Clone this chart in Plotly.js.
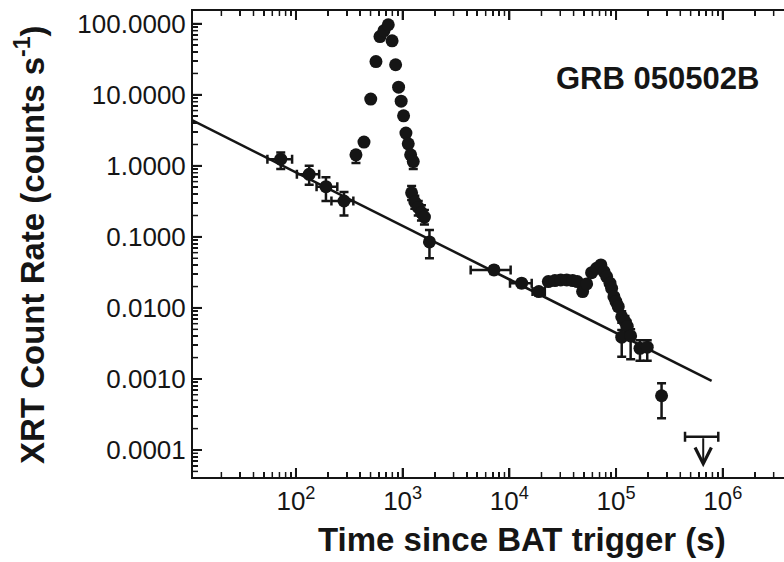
<!DOCTYPE html>
<html>
<head>
<meta charset="utf-8">
<script src="https://cdn.plot.ly/plotly-3.0.1.min.js"></script>
<style>
html,body{margin:0;padding:0;overflow:hidden;background:#fff;}
#chart{width:800px;height:562px;}
</style>
</head>
<body>
<div id="chart"></div>
<script>
// Early decay (with time bins)
const earlyTime   = [72, 133, 191, 282];
const earlyTimeLo = [54, 102, 156, 215];
const earlyTimeHi = [92, 165, 244, 345];
const earlyRate   = [1.24, 0.76, 0.51, 0.32];
const earlyRateLo = [0.90, 0.54, 0.32, 0.20];
const earlyRateHi = [1.54, 1.00, 0.69, 0.43];

// Giant flare
const flareTime   = [365, 434, 502, 562, 613, 668, 733, 796, 859, 916, 968, 1020, 1073, 1128, 1188, 1257];
const flareRate   = [1.43, 2.16, 8.7, 29.4, 66, 80, 97, 57.6, 26.5, 12.8, 8.15, 5.06, 2.89, 2.04, 1.43, 1.15];
const flareRateLo = [1.10, 2.16, 8.7, 29.4, 66, 80, 97, 57.6, 26.5, 12.8, 8.15, 5.06, 2.89, 2.04, 1.43, 0.90];
const flareRateHi = [1.60, 2.16, 8.7, 29.4, 66, 80, 97, 57.6, 26.5, 12.8, 8.15, 5.06, 2.89, 2.04, 1.43, 1.30];

// Post-flare decline
const tailTime   = [1213, 1300, 1400, 1500, 1600, 1783];
const tailRate   = [0.417, 0.31, 0.26, 0.22, 0.19, 0.085];
const tailRateLo = [0.33, 0.25, 0.20, 0.17, 0.15, 0.05];
const tailRateHi = [0.52, 0.38, 0.32, 0.28, 0.24, 0.125];

// Late-time data
const lateTime   = [7180, 13030, 18900, 23200, 26700, 30300, 34500, 39200, 43300, 48600, 53000, 59000, 65700, 72100, 77100, 81600, 87700, 90900, 95500, 99800, 104900, 113000, 121200, 127400, 113000, 137000, 167500, 196000, 267000];
const lateTimeLo = [4340, 10140, 16500, 23200, 26700, 30300, 34500, 39200, 43300, 48600, 53000, 59000, 65700, 72100, 77100, 81600, 87700, 90900, 95500, 99800, 104900, 113000, 121200, 127400, 113000, 137000, 167500, 196000, 267000];
const lateTimeHi = [10280, 16200, 21500, 23200, 26700, 30300, 34500, 39200, 43300, 48600, 53000, 59000, 65700, 72100, 77100, 81600, 87700, 90900, 95500, 99800, 104900, 113000, 121200, 127400, 113000, 137000, 167500, 196000, 267000];
const lateRate   = [0.0343, 0.0223, 0.0170, 0.0235, 0.0243, 0.0248, 0.0248, 0.0243, 0.0235, 0.0170, 0.0218, 0.0314, 0.0362, 0.0403, 0.0325, 0.0276, 0.0223, 0.0189, 0.0144, 0.0123, 0.0104, 0.0075, 0.0064, 0.0055, 0.00387, 0.00403, 0.0027, 0.0028, 0.00058];
const lateRateLo = [0.0300, 0.0195, 0.0150, 0.0235, 0.0243, 0.0248, 0.0248, 0.0243, 0.0235, 0.0170, 0.0218, 0.0314, 0.0362, 0.0403, 0.0325, 0.0276, 0.0223, 0.0189, 0.0144, 0.0123, 0.0092, 0.0062, 0.0053, 0.0045, 0.00206, 0.0019, 0.0018, 0.0018, 0.00028];
const lateRateHi = [0.0385, 0.0250, 0.0190, 0.0235, 0.0243, 0.0248, 0.0248, 0.0243, 0.0235, 0.0170, 0.0218, 0.0314, 0.0362, 0.0403, 0.0325, 0.0276, 0.0223, 0.0189, 0.0144, 0.0123, 0.0118, 0.0090, 0.0077, 0.0066, 0.0049, 0.0050, 0.0035, 0.0035, 0.00087];

// Upper limit
const limTime = [656000];
const limTimeLo = [443000];
const limTimeHi = [908000];
const limRate = [0.000154];
const limArrowTip = 0.000057;

// Power-law fit line
const fitTime = [10, 787000];
const fitRate = [4.59, 0.00094];

// Tick labels
const yTickVals = [100, 10, 1, 0.1, 0.01, 0.001, 0.0001];
const yTickText = ["100.0000", "10.0000", "1.0000", "0.1000", "0.0100", "0.0010", "0.0001"];
const xTickVals = [1e2, 1e3, 1e4, 1e5, 1e6, 1e7];
const xTickText = ["10<sup>2</sup>", "10<sup>3</sup>", "10<sup>4</sup>", "10<sup>5</sup>", "10<sup>6</sup>", "10<sup>7</sup>"];

// Layout geometry
const FIG_W = 800, FIG_H = 562;
const MARGIN = {l: 193, r: 0, t: 11, b: 85};
const X_RANGE = [1.035, 6.724];
const Y_RANGE = [-4.38, 2.18];
const MAJOR_LEN = 9, MINOR_LEN = 5;

const FONT = 'Liberation Sans, Arial, sans-serif';
const INK = '#151515';
const sub = (a, b) => a.map((v, i) => Math.max(0, v - b[i]));
const subR = (a, b) => a.map((v, i) => Math.max(0, b[i] - v));

// minor tick positions (2..9 within each decade)
function minorVals(p0, p1) {
  const out = [];
  for (let p = p0; p <= p1; p++) {
    for (let m = 2; m <= 9; m++) out.push(m * Math.pow(10, p));
  }
  return out;
}
const xMinorVals = minorVals(1, 7);
const yMinorVals = minorVals(-5, 2);

function pts(t, tLo, tHi, r, rLo, rHi) {
  const tr = {
    type: 'scatter', mode: 'markers', x: t, y: r,
    marker: {symbol: 'circle', size: 13, color: INK},
    error_y: {type: 'data', symmetric: false, array: subR(r, rHi), arrayminus: sub(r, rLo), color: INK, thickness: 2.5, width: 4.5},
    showlegend: false, hoverinfo: 'skip'
  };
  if (tLo) {
    tr.error_x = {type: 'data', symmetric: false, array: subR(t, tHi), arrayminus: sub(t, tLo), color: INK, thickness: 2.5, width: 4.5};
  }
  return tr;
}

// Tick marks drawn through the axes' own scales (inside the frame)
const plotW = FIG_W - MARGIN.l - MARGIN.r;
const plotH = FIG_H - MARGIN.t - MARGIN.b;
const pxPerDecX = plotW / (X_RANGE[1] - X_RANGE[0]);
const pxPerDecY = plotH / (Y_RANGE[1] - Y_RANGE[0]);
const inRange = (v, r) => Math.log10(v) > r[0] && Math.log10(v) < r[1];

function tickTrace(xv, yv, len, width) {
  const x = [], y = [];
  const xl = Math.pow(10, X_RANGE[0]);
  const xl2 = Math.pow(10, X_RANGE[0] + len / pxPerDecX);
  const yb = Math.pow(10, Y_RANGE[0]);
  const yb2 = Math.pow(10, Y_RANGE[0] + len / pxPerDecY);
  const yt = Math.pow(10, Y_RANGE[1]);
  const yt2 = Math.pow(10, Y_RANGE[1] - len / pxPerDecY);
  yv.filter(v => inRange(v, Y_RANGE)).forEach(v => { x.push(xl, xl2, null); y.push(v, v, null); });
  xv.filter(v => inRange(v, X_RANGE)).forEach(v => {
    x.push(v, v, null); y.push(yb, yb2, null);
    x.push(v, v, null); y.push(yt, yt2, null);
  });
  return {type: 'scatter', mode: 'lines', x: x, y: y, line: {color: INK, width: width}, connectgaps: false, showlegend: false, hoverinfo: 'skip'};
}

const traces = [
  tickTrace(xMinorVals, yMinorVals, MINOR_LEN, 1.5),
  tickTrace(xTickVals, yTickVals, MAJOR_LEN, 2),
  {type: 'scatter', mode: 'lines', x: fitTime, y: fitRate, line: {color: INK, width: 2.5}, showlegend: false, hoverinfo: 'skip'},
  pts(earlyTime, earlyTimeLo, earlyTimeHi, earlyRate, earlyRateLo, earlyRateHi),
  pts(flareTime, null, null, flareRate, flareRateLo, flareRateHi),
  pts(tailTime, null, null, tailRate, tailRateLo, tailRateHi),
  pts(lateTime, lateTimeLo, lateTimeHi, lateRate, lateRateLo, lateRateHi),
  {type: 'scatter', mode: 'markers', x: limTime, y: limRate, marker: {size: 1, color: 'rgba(0,0,0,0)'},
   error_x: {type: 'data', symmetric: false, array: subR(limTime, limTimeHi), arrayminus: sub(limTime, limTimeLo), color: INK, thickness: 2.5, width: 5},
   showlegend: false, hoverinfo: 'skip'}
];

const axisCommon = {
  type: 'log', showline: true, linecolor: INK, linewidth: 2, mirror: 'allticks',
  ticks: 'inside', ticklen: MAJOR_LEN, tickwidth: 2, tickcolor: INK, layer: 'above traces',
  showgrid: false, zeroline: false,
  tickmode: 'array',
  tickfont: {family: FONT, size: 26, color: INK}
};
const minorCommon = {ticks: 'inside', ticklen: MINOR_LEN, tickwidth: 1.5, tickcolor: INK, showgrid: false, tickmode: 'array'};

const layout = {
  width: FIG_W, height: FIG_H,
  margin: MARGIN,
  xaxis: Object.assign({}, axisCommon, {range: X_RANGE, tickvals: xTickVals, ticktext: xTickText,
    minor: Object.assign({}, minorCommon, {tickvals: xMinorVals})}),
  yaxis: Object.assign({}, axisCommon, {range: Y_RANGE, tickvals: yTickVals, ticktext: yTickText,
    minor: Object.assign({}, minorCommon, {tickvals: yMinorVals})}),
  annotations: [
    {xref: 'paper', yref: 'paper', x: 0.542, y: -0.135, xanchor: 'center', yanchor: 'middle', showarrow: false,
     text: '<b>Time since BAT trigger (s)</b>', font: {family: FONT, size: 33, color: INK}},
    {xref: 'paper', yref: 'paper', x: -0.2685, y: 0.498, xanchor: 'center', yanchor: 'middle', showarrow: false, textangle: -90,
     text: '<b>XRT Count Rate (counts s<sup>-1</sup>)</b>', font: {family: FONT, size: 33, color: INK}},
    {xref: 'paper', yref: 'paper', x: 0.766, y: 0.856, xanchor: 'center', yanchor: 'middle', showarrow: false,
     text: '<b>GRB 050502B</b>', font: {family: FONT, size: 31, color: INK}},
    {xref: 'x', yref: 'y', axref: 'x', ayref: 'y',
     x: Math.log10(limTime[0]), y: Math.log10(limArrowTip),
     ax: Math.log10(limTime[0]), ay: Math.log10(limRate[0]),
     showarrow: true, arrowhead: 5, arrowsize: 1.6, arrowwidth: 2, arrowcolor: INK, text: ''}
  ]
};

Plotly.newPlot('chart', traces, layout, {displayModeBar: false, staticPlot: true});
</script>
</body>
</html>
